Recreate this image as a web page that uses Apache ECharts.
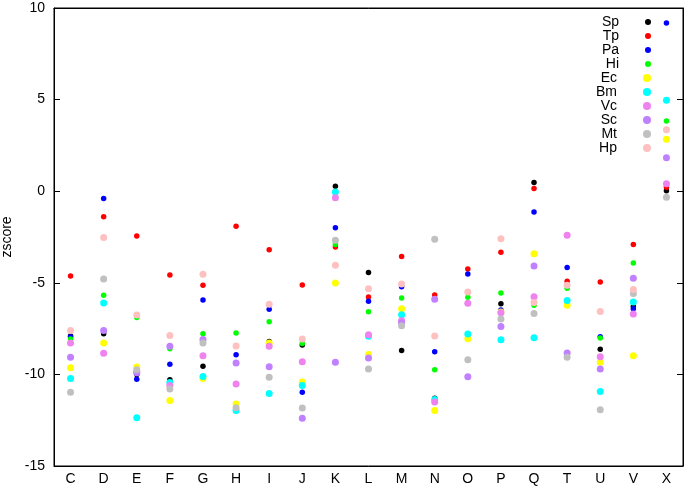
<!DOCTYPE html>
<html>
<head>
<meta charset="utf-8">
<script src="https://cdn.jsdelivr.net/npm/echarts@6/dist/echarts.min.js"></script>
<style>
  html, body { margin: 0; padding: 0; background: #fff; }
  #chart { width: 685px; height: 488px; }
</style>
</head>
<body>
<div id="chart"></div>
<script>
var categories = ['C', 'D', 'E', 'F', 'G', 'H', 'I', 'J', 'K', 'L', 'M', 'N', 'O', 'P', 'Q', 'T', 'U', 'V', 'X'];

// zscore per category, one array per organism
var Sp = [-7.9, -7.78, -10.0, -10.29, -9.56, -11.8, -8.20, -8.40, 0.27, -4.44, -8.69, -11.3, -8.0, -6.14, 0.47, -9.0, -8.63, -6.3, 0.02];
var Tp = [-4.63, -1.40, -2.44, -4.57, -5.14, -1.91, -3.19, -5.12, -3.04, -5.77, -3.57, -5.66, -4.24, -3.33, 0.15, -4.92, -4.95, -2.91, 0.22];
var Pa = [-7.94, -0.40, -10.27, -9.45, -5.94, -8.93, -6.45, -10.97, -2.00, -6.01, -5.21, -8.76, -4.52, -6.48, -1.13, -4.17, -7.94, -6.41, 9.18];
var Hi = [-8.07, -5.68, -6.89, -8.60, -7.78, -7.74, -7.12, -8.32, -2.91, -6.58, -5.83, -9.74, -5.79, -5.56, -6.23, -5.30, -8.01, -3.92, 3.83];
var Ec = [-9.64, -8.29, -9.60, -11.42, -10.22, -11.62, -8.29, -10.42, -5.01, -8.91, -6.41, -11.97, -8.05, -6.6, -3.42, -6.23, -9.34, -8.98, 2.84];
var Bm = [-10.22, -6.10, -12.37, -10.44, -10.11, -11.97, -11.04, -10.60, -0.04, -7.92, -6.74, -11.37, -7.80, -8.11, -8.00, -5.97, -10.93, -6.05, 4.97];
var Vc = [-8.29, -8.85, -9.87, -10.60, -8.98, -10.53, -8.47, -9.31, -0.36, -7.83, -7.07, -11.51, -6.12, -6.63, -5.76, -2.40, -9.03, -6.70, 0.40];
var Sc = [-9.07, -7.61, -9.91, -8.47, -8.09, -9.38, -9.58, -12.39, -9.33, -9.11, -7.2, -5.90, -10.13, -7.38, -4.08, -8.83, -9.71, -4.75, 1.82];
var Mt = [-10.97, -4.79, -9.74, -10.80, -8.29, -11.82, -10.15, -11.84, -2.68, -9.71, -7.34, -2.62, -9.20, -6.98, -6.67, -9.07, -11.93, -5.59, -0.33];
var Hp = [-7.61, -2.53, -6.76, -7.87, -4.54, -8.45, -6.17, -8.07, -4.04, -5.32, -5.06, -7.91, -5.50, -2.59, -6.08, -5.14, -6.56, -5.37, 3.35];

var seriesNames = ['Sp', 'Tp', 'Pa', 'Hi', 'Ec', 'Bm', 'Vc', 'Sc', 'Mt', 'Hp'];
var seriesData = [Sp, Tp, Pa, Hi, Ec, Bm, Vc, Sc, Mt, Hp];
var colors = ['#000000', '#ff0000', '#0000ff', '#00ff00', '#ffff00', '#00ffff', '#ee82ee', '#c080ff', '#c0c0c0', '#ffc0c0'];
var sizes = [5.5, 5.5, 5.5, 5.5, 7, 7, 7, 7, 7, 7];

var font = 'Liberation Sans';

var series = seriesNames.map(function (name, i) {
    return {
        name: name,
        type: 'scatter',
        data: seriesData[i],
        symbol: 'circle',
        symbolSize: sizes[i],
        itemStyle: { color: colors[i], opacity: 1 },
        z: 2 + i
    };
});

function legendPart(names, top, size) {
    return {
        orient: 'vertical',
        right: 34,
        top: top,
        align: 'right',
        itemWidth: size,
        itemHeight: size,
        itemGap: 0,
        icon: 'circle',
        padding: 0,
        data: names,
        textStyle: { fontFamily: font, fontSize: 14, lineHeight: 14, color: '#000', padding: [0, 21, 0, 0] }
    };
}

var myChart = echarts.init(document.getElementById('chart'));

option = {
    animation: false,
    backgroundColor: '#fff',
    grid: {
        left: 54, right: 2, top: 8, bottom: 22,
        containLabel: false, outerBoundsMode: 'none',
        show: true, borderColor: '#000', borderWidth: 1
    },
    legend: [
        legendPart(seriesNames.slice(0, 4), 15, 6),
        legendPart(seriesNames.slice(4), 71, 8)
    ],
    xAxis: [{
        type: 'category',
        data: categories,
        boundaryGap: true,
        axisLine: { onZero: false, lineStyle: { color: '#000' } },
        axisTick: { inside: true, alignWithLabel: true, length: 6, lineStyle: { color: '#000' } },
        axisLabel: { fontFamily: font, fontSize: 14, color: '#000', margin: 6 },
        splitLine: { show: false }
    }, {
        type: 'category',
        position: 'top',
        data: categories,
        boundaryGap: true,
        axisLine: { onZero: false, lineStyle: { color: '#000' } },
        axisTick: { inside: true, alignWithLabel: true, length: 6, lineStyle: { color: '#000' } },
        axisLabel: { show: false },
        splitLine: { show: false }
    }],
    yAxis: [{
        type: 'value',
        min: -15,
        max: 10,
        interval: 5,
        name: 'zscore',
        nameLocation: 'middle',
        nameRotate: 90,
        nameGap: 33,
        nameTextStyle: { fontFamily: font, fontSize: 14, color: '#000' },
        axisLine: { show: true, onZero: false, lineStyle: { color: '#000' } },
        axisTick: { show: true, inside: true, length: 6, lineStyle: { color: '#000' } },
        axisLabel: { fontFamily: font, fontSize: 14, color: '#000', margin: 9 },
        splitLine: { show: false }
    }, {
        type: 'value',
        position: 'right',
        min: -15,
        max: 10,
        interval: 5,
        axisLine: { show: true, onZero: false, lineStyle: { color: '#000' } },
        axisTick: { show: true, inside: true, length: 6, lineStyle: { color: '#000' } },
        axisLabel: { show: false },
        splitLine: { show: false }
    }],
    series: series
};

myChart.setOption(option);
</script>
</body>
</html>
